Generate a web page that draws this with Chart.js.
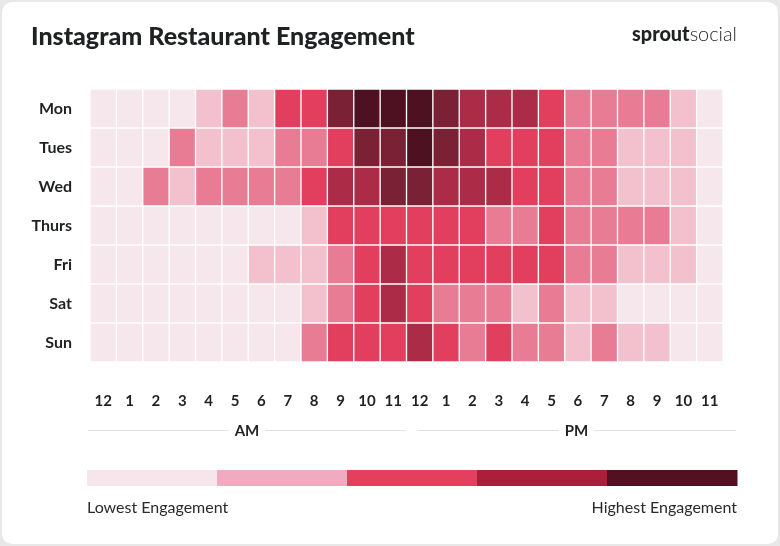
<!DOCTYPE html>
<html><head><meta charset="utf-8">
<script src="https://cdn.jsdelivr.net/npm/chart.js@4.4.1/dist/chart.umd.min.js"></script>
<style>
html,body{margin:0;padding:0;background:#e8e8e8;width:780px;height:546px;overflow:hidden}
#card{position:absolute;left:2px;top:2px;width:776px;height:542px;background:#fff;border-radius:10px}
canvas{position:absolute;left:0;top:0}
</style></head><body>
<div id="card"></div>
<canvas id="c" width="780" height="546"></canvas>
<script>
// ---- data ----
const days = ['Mon', 'Tues', 'Wed', 'Thurs', 'Fri', 'Sat', 'Sun'];
const hourLabels = ['12','1','2','3','4','5','6','7','8','9','10','11','12','1','2','3','4','5','6','7','8','9','10','11'];
// engagement level per hour (0 = lowest … 6 = highest)
const mon   = [0,0,0,0,1,2,1,3,3,5,6,6, 6,5,4,4,4,3,2,2,2,2,1,0];
const tues  = [0,0,0,2,1,1,1,2,2,3,5,5, 6,5,4,3,3,3,2,2,1,1,1,0];
const wed   = [0,0,2,1,2,2,2,2,3,4,4,5, 5,4,4,4,3,3,2,2,1,1,1,0];
const thurs = [0,0,0,0,0,0,0,0,1,3,3,3, 3,3,3,2,2,3,2,2,2,2,1,0];
const fri   = [0,0,0,0,0,0,1,1,1,2,3,4, 3,3,3,3,3,3,2,2,1,1,1,0];
const sat   = [0,0,0,0,0,0,0,0,1,2,3,4, 3,2,2,2,1,2,1,1,0,0,0,0];
const sun   = [0,0,0,0,0,0,0,0,2,3,3,3, 4,3,2,3,2,2,1,2,1,1,0,0];
const dayLevels = [mon, tues, wed, thurs, fri, sat, sun];
const titleText = 'Instagram Restaurant Engagement';
const periodLabels = ['AM', 'PM'];
const lowLabel = 'Lowest Engagement';
const highLabel = 'Highest Engagement';

// ---- styles ----
const levelColors = ['#f6e7ed','#f3c1ce','#e87c94','#e23e5e','#ac2c48','#7a2135','#4e1121'];
const legendColors = ['#f6e6ec','#f0abc1','#e3405e','#ab1f3a','#521121'];
const FONT = 'Lato, "Noto Sans", sans-serif';
const TEXT = '#1f2123';

function fitSize(text, weight, target) {
  const c = document.createElement('canvas').getContext('2d');
  c.font = weight + ' 100px ' + FONT;
  return 100 * target / c.measureText(text).width;
}
const titleSize = fitSize(titleText, '900', 384);
const titleLH = titleSize * 1.2;

const decor = {
  id: 'decor',
  afterDraw(chart) {
    const ctx = chart.ctx;
    ctx.save();
    // logo
    const logoA = 'sprout', logoB = 'social';
    const m = document.createElement('canvas').getContext('2d');
    m.font = '900 100px ' + FONT; const wA = m.measureText(logoA).width;
    m.font = '300 100px ' + FONT; const wB = m.measureText(logoB).width;
    const ls = 100 * 105 / (wA + wB);
    ctx.textBaseline = 'alphabetic';
    ctx.textAlign = 'left';
    ctx.fillStyle = TEXT;
    let x0 = 737 - 105;
    ctx.font = '900 ' + ls + 'px ' + FONT;
    ctx.fillText(logoA, x0, 41);
    ctx.font = '300 ' + ls + 'px ' + FONT;
    ctx.fillText(logoB, x0 + wA * ls / 100, 41);

    // AM / PM
    const spans = [[88, 406], [417, 736]];
    const ly = 430;
    ctx.font = 'bold 15px ' + FONT;
    ctx.textAlign = 'center';
    ctx.textBaseline = 'middle';
    spans.forEach((s, i) => {
      const cx = (s[0] + s[1]) / 2;
      const tw = ctx.measureText(periodLabels[i]).width;
      ctx.strokeStyle = '#e2e2e2';
      ctx.lineWidth = 1;
      ctx.beginPath();
      ctx.moveTo(s[0], ly + 0.5); ctx.lineTo(cx - tw / 2 - 6, ly + 0.5);
      ctx.moveTo(cx + tw / 2 + 6, ly + 0.5); ctx.lineTo(s[1], ly + 0.5);
      ctx.stroke();
      ctx.fillStyle = TEXT;
      ctx.fillText(periodLabels[i], cx, ly + 1);
    });

    // colour legend
    const bx = 87, bw = 650, by = 470, bh = 16;
    const seg = bw / legendColors.length;
    legendColors.forEach((c, i) => {
      ctx.fillStyle = c;
      ctx.fillRect(bx + i * seg, by, seg + 0.5, bh);
    });
    ctx.font = '16px ' + FONT;
    ctx.fillStyle = '#2a2a2a';
    ctx.textBaseline = 'middle';
    ctx.textAlign = 'left';
    ctx.fillText(lowLabel, bx, 508);
    ctx.textAlign = 'right';
    ctx.fillText(highLabel, bx + bw, 508);
    ctx.restore();
  }
};

new Chart(document.getElementById('c'), {
  type: 'bar',
  data: {
    labels: hourLabels,
    datasets: dayLevels.map((lv, d) => ({
      label: days[d],
      data: lv.map(() => [d - 0.5, d + 0.5]),
      backgroundColor: lv.map(v => levelColors[v]),
      borderColor: '#ffffff',
      borderWidth: 1,
      borderSkipped: false,
      grouped: false,
      barPercentage: 1,
      categoryPercentage: 1
    }))
  },
  options: {
    responsive: false,
    animation: false,
    devicePixelRatio: 1,
    layout: { padding: { left: 31, right: 57, top: 0, bottom: 124 } },
    plugins: {
      legend: { display: false },
      tooltip: { enabled: false },
      title: {
        display: true,
        text: titleText,
        align: 'start',
        color: TEXT,
        font: { family: FONT, size: titleSize, weight: '900', lineHeight: 1.2 },
        padding: { top: 37 - titleLH / 2, bottom: 89 - (37 - titleLH / 2) - titleLH }
      }
    },
    scales: {
      x: {
        type: 'category',
        grid: { display: false, drawTicks: false },
        border: { display: false },
        ticks: {
          autoSkip: false, maxRotation: 0, padding: 30,
          color: TEXT, font: { family: FONT, size: 15, weight: 'bold' }
        },
        afterFit: s => { s.height = 60; }
      },
      y: {
        type: 'linear',
        min: -0.5, max: 6.5,
        reverse: true,
        grid: { display: false, drawTicks: false },
        border: { display: false },
        afterBuildTicks: s => { s.ticks = days.map((_, i) => ({ value: i })); },
        ticks: {
          padding: 18,
          color: TEXT, font: { family: FONT, size: 16, weight: 'bold' },
          callback: v => days[v]
        },
        afterFit: s => { s.width = 59; }
      }
    }
  },
  plugins: [decor]
});
</script>
</body></html>
